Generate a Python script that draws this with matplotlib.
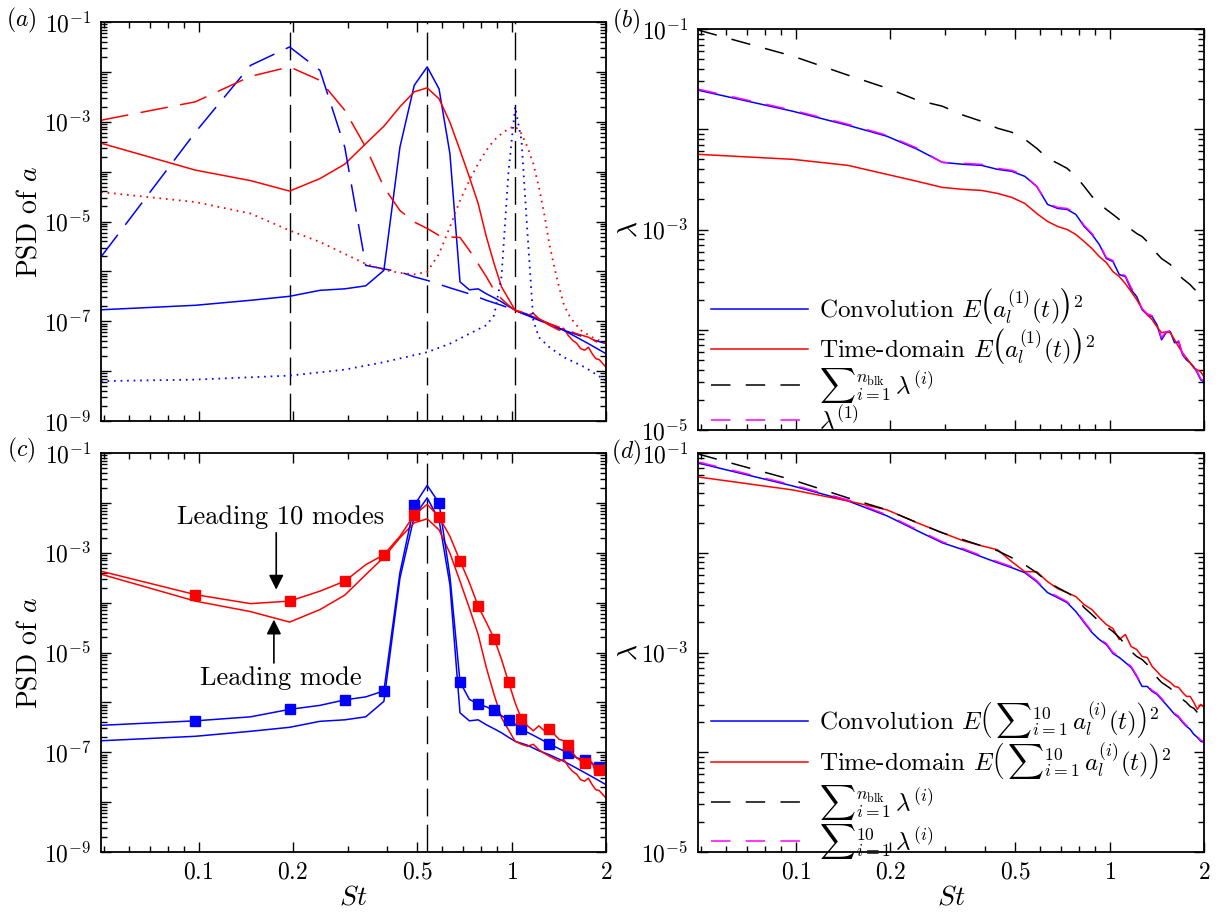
import numpy as np
import matplotlib
matplotlib.use("Agg")
import matplotlib.pyplot as plt
from matplotlib.ticker import FixedLocator, LogLocator, FuncFormatter, NullFormatter

plt.rcParams.update({
    "font.family": "serif",
    "font.serif": ["cmr10"],
    "mathtext.fontset": "cm",
    "axes.unicode_minus": False,
    "axes.formatter.use_mathtext": True,
    "lines.scale_dashes": False,
})

# Strouhal number of each spectral bin
ST_BINS = [0.0488, 0.0977, 0.1465, 0.1953, 0.2441, 0.2930, 0.3418, 0.3906,
           0.4395, 0.4883, 0.5371, 0.5859, 0.6348, 0.6836, 0.7324, 0.7813,
           0.8301, 0.8789, 0.9277, 0.9766, 1.0254, 1.0742, 1.1230, 1.1719,
           1.2207, 1.2695, 1.3184, 1.3672, 1.4160, 1.4648, 1.5137, 1.5625,
           1.6113, 1.6602, 1.7090, 1.7578, 1.8066, 1.8555, 1.9043, 1.9531,
           2.0000]
ST_MARKED = [0.1, 0.2, 0.5, 1, 2]
PEAK_BINS = [4, 11, 21]
SQUARE_BINS = [2, 4, 6, 8, 10, 12, 14, 16, 18, 20, 22, 27, 31, 35, 39]

# ---- (a) PSD of a, log10 values at the listed bins ----
a_blue_solid_bins = list(range(1, 22)) + [23, 25, 27, 30, 33, 36, 41]
a_blue_solid = [-6.77, -6.68, -6.58, -6.50, -6.38, -6.35, -6.29, -5.98, -3.51,
                -2.27, -1.90, -2.34, -3.64, -6.21, -6.37, -6.35, -6.45, -6.53,
                -6.61, -6.70, -6.78, -6.86, -6.97, -7.05, -7.18, -7.32, -7.45,
                -7.65]
a_red_solid_bins = list(range(1, 42))
a_red_solid = [-3.43, -3.97, -4.18, -4.39, -4.14, -3.85, -3.44, -3.09, -2.70,
               -2.40, -2.32, -2.54, -3.01, -3.57, -4.11, -4.64, -5.31, -5.85,
               -6.31, -6.55, -6.78, -6.84, -6.88, -6.84, -6.95, -7.02, -7.08,
               -7.13, -7.18, -7.14, -7.28, -7.38, -7.44, -7.55, -7.58, -7.52,
               -7.65, -7.75, -7.77, -7.85, -7.92]
a_blue_dashed_bins = [1, 2, 3, 4, 5, 6, 7, 8, 9, 10, 11, 13, 15, 17, 19, 21,
                      25, 30, 35, 41]
a_blue_dashed = [-5.71, -3.21, -1.87, -1.50, -1.97, -3.51, -5.88, -5.95, -6.01,
                 -6.11, -6.18, -6.33, -6.45, -6.58, -6.68, -6.78, -6.98, -7.18,
                 -7.32, -7.45]
a_red_dashed_bins = list(range(1, 22)) + [23, 25, 27, 30, 33, 36, 41]
a_red_dashed = [-2.97, -2.60, -2.09, -1.90, -2.17, -2.77, -3.51, -4.31, -4.78,
                -5.01, -5.14, -5.28, -5.31, -5.32, -5.58, -5.85, -6.11, -6.38,
                -6.55, -6.68, -6.78, -6.85, -6.95, -7.05, -7.15, -7.25, -7.32,
                -7.52]
a_blue_dotted_bins = [1, 2, 4, 6, 8, 10, 11, 13, 15, 17, 18, 19, 20, 21, 22,
                      23, 24, 25, 27, 30, 35, 41]
a_blue_dotted = [-8.20, -8.17, -8.09, -7.97, -7.82, -7.68, -7.62, -7.45,
                 -7.25, -7.08, -6.88, -6.10, -4.00, -2.70, -3.37, -5.24,
                 -6.98, -7.32, -7.52, -7.72, -7.92, -8.19]
a_red_dotted_bins = list(range(1, 33)) + [34, 37, 41]
a_red_dotted = [-4.41, -4.61, -4.84, -5.18, -5.41, -5.65, -5.85, -5.97, -6.03,
                -6.06, -6.01, -5.65, -5.11, -4.58, -4.18, -3.84, -3.57, -3.37,
                -3.24, -3.14, -3.09, -3.24, -3.51, -3.84, -4.31, -4.84, -5.45,
                -5.91, -6.31, -6.65, -6.85, -6.98, -7.18, -7.32, -7.45]

# ---- (c) leading 10 modes, log10 values ----
c_red_10_bins = list(range(1, 42))
c_red_10 = [-3.37, -3.84, -4.02, -3.97, -3.77, -3.57, -3.24, -3.04, -2.67,
            -2.24, -2.03, -2.28, -2.67, -3.16, -3.60, -4.07, -4.40, -4.72,
            -5.14, -5.59, -6.01, -6.33, -6.47, -6.57, -6.47, -6.57, -6.54,
            -6.64, -6.74, -6.77, -6.86, -7.01, -7.11, -7.17, -7.21, -7.14,
            -7.21, -7.41, -7.36, -7.27, -7.24]
c_blue_10_bins = list(range(1, 23)) + [24, 27, 29, 31, 33, 35, 37, 39, 41]
c_blue_10 = [-6.46, -6.37, -6.29, -6.14, -6.06, -5.95, -5.89, -5.77, -3.40,
             -2.05, -1.65, -2.00, -3.47, -5.59, -5.94, -6.03, -6.09, -6.16,
             -6.27, -6.35, -6.44, -6.54, -6.66, -6.83, -6.93, -7.01, -7.11,
             -7.16, -7.23, -7.29, -7.30]

# ---- (b) leading mode energy, log10 values at every bin ----
b_conv = [-1.61, -1.82, -1.96, -2.07, -2.20, -2.33, -2.35, -2.36, -2.40, -2.42,
          -2.47, -2.57, -2.75, -2.79, -2.80, -2.85, -2.97, -3.05, -3.15, -3.29,
          -3.32, -3.45, -3.47, -3.60, -3.67, -3.80, -3.85, -3.87, -3.95, -4.10,
          -4.03, -4.02, -4.13, -4.12, -4.25, -4.30, -4.33, -4.37, -4.43, -4.50,
          -4.52]
b_time = [-2.25, -2.30, -2.36, -2.45, -2.52, -2.58, -2.60, -2.61, -2.64, -2.68,
          -2.74, -2.84, -2.92, -2.97, -3.00, -3.05, -3.12, -3.19, -3.27, -3.33,
          -3.42, -3.47, -3.54, -3.62, -3.70, -3.79, -3.85, -3.90, -3.97, -4.03,
          -4.02, -4.03, -4.10, -4.17, -4.23, -4.28, -4.33, -4.38, -4.40, -4.42,
          -4.47]
b_lam_sum = [-1.01, -1.27, -1.46, -1.59, -1.71, -1.77, -1.86, -1.92, -1.99,
             -2.03, -2.10, -2.19, -2.29, -2.34, -2.39, -2.47, -2.57, -2.67,
             -2.74, -2.80, -2.85, -2.90, -2.95, -3.00, -3.04, -3.07, -3.12,
             -3.19, -3.24, -3.29, -3.32, -3.35, -3.40, -3.45, -3.49, -3.52,
             -3.55, -3.59, -3.62, -3.64, -3.65]
b_lam_1 = [-1.60, -1.81, -1.95, -2.06, -2.19, -2.33, -2.34, -2.35, -2.39, -2.41,
           -2.46, -2.57, -2.74, -2.78, -2.79, -2.84, -2.96, -3.04, -3.14, -3.28,
           -3.31, -3.44, -3.46, -3.58, -3.66, -3.79, -3.84, -3.86, -3.94, -4.08,
           -4.02, -4.01, -4.12, -4.11, -4.24, -4.29, -4.32, -4.36, -4.42, -4.49,
           -4.51]

# ---- (d) leading 10 modes energy, log10 values at every bin ----
d_conv = [-1.10, -1.33, -1.48, -1.63, -1.78, -1.90, -1.97, -2.04, -2.10, -2.15,
          -2.20, -2.29, -2.40, -2.45, -2.50, -2.59, -2.70, -2.80, -2.87, -2.92,
          -3.01, -3.05, -3.10, -3.15, -3.24, -3.34, -3.34, -3.39, -3.42, -3.47,
          -3.52, -3.57, -3.62, -3.65, -3.70, -3.74, -3.77, -3.82, -3.85, -3.89,
          -3.90]
d_time = [-1.24, -1.37, -1.48, -1.57, -1.70, -1.80, -1.88, -1.93, -1.97, -2.09,
          -2.19, -2.19, -2.29, -2.36, -2.40, -2.44, -2.52, -2.57, -2.65, -2.72,
          -2.76, -2.87, -2.82, -2.94, -2.97, -3.04, -3.05, -3.14, -3.19, -3.24,
          -3.27, -3.30, -3.34, -3.35, -3.40, -3.44, -3.44, -3.50, -3.57, -3.52,
          -3.55]
d_lam_sum = [-1.01, -1.27, -1.45, -1.57, -1.70, -1.80, -1.87, -1.93, -1.98,
             -2.05, -2.12, -2.20, -2.29, -2.35, -2.40, -2.45, -2.55, -2.62,
             -2.69, -2.74, -2.79, -2.85, -2.92, -2.99, -3.04, -3.07, -3.12,
             -3.20, -3.25, -3.30, -3.33, -3.36, -3.40, -3.44, -3.47, -3.50,
             -3.54, -3.56, -3.60, -3.62, -3.64]
d_lam_10 = [-1.09, -1.32, -1.47, -1.62, -1.77, -1.89, -1.96, -2.03, -2.09, -2.14,
            -2.19, -2.28, -2.39, -2.44, -2.49, -2.58, -2.69, -2.79, -2.86, -2.91,
            -3.00, -3.04, -3.09, -3.14, -3.23, -3.33, -3.33, -3.38, -3.41, -3.46,
            -3.51, -3.56, -3.61, -3.64, -3.69, -3.73, -3.76, -3.81, -3.84, -3.88,
            -3.89]

LEGEND_B = [r"Convolution $E\left(a_l^{(1)}(t)\right)^2$",
            r"Time-domain $E\left(a_l^{(1)}(t)\right)^2$",
            r"${\sum}_{i=1}^{n_{\mathrm{blk}}}\,\lambda^{(i)}$",
            r"$\lambda^{(1)}$"]
LEGEND_D = [r"Convolution $E\left(\,{\sum}_{i=1}^{10}\,a_l^{(i)}(t)\right)^2$",
            r"Time-domain $E\left(\,{\sum}_{i=1}^{10}\,a_l^{(i)}(t)\right)^2$",
            r"${\sum}_{i=1}^{n_{\mathrm{blk}}}\,\lambda^{(i)}$",
            r"${\sum}_{i=1}^{10}\,\lambda^{(i)}$"]

BLUE, RED, MAGENTA = "#0000ff", "#ff0000", "#ff00ff"
LW = 1.1
LONG_DASH = (20, 9)
LEG_DASH = (14, 11)
DOT = (1.2, 3.5)
TICK_FS = 17
W, H = 1221, 919


def st(bins):
    return np.array([ST_BINS[k - 1] for k in bins])


def psd(logs):
    return 10.0 ** np.asarray(logs)


def odd_decades(v, pos):
    e = int(round(np.log10(v)))
    return rf"$10^{{{e}}}$" if e % 2 else ""


def style_axes(ax, ymin, ymax, show_x):
    ax.set_xscale("log")
    ax.set_yscale("log")
    ax.set_xlim(ST_BINS[0], ST_BINS[-1])
    ax.set_ylim(ymin, ymax)
    ax.xaxis.set_major_locator(FixedLocator(ST_MARKED))
    ax.xaxis.set_minor_locator(LogLocator(base=10, subs=np.arange(1, 10), numticks=20))
    ax.xaxis.set_minor_formatter(NullFormatter())
    if show_x:
        ax.xaxis.set_major_formatter(FuncFormatter(lambda v, p: f"${v:g}$"))
    else:
        ax.xaxis.set_major_formatter(NullFormatter())
    ax.yaxis.set_major_locator(LogLocator(base=10, numticks=20))
    ax.yaxis.set_minor_locator(LogLocator(base=10, subs=np.arange(2, 10), numticks=20))
    ax.yaxis.set_major_formatter(FuncFormatter(odd_decades))
    ax.yaxis.set_minor_formatter(NullFormatter())
    ax.tick_params(which="both", direction="in", top=True, right=True,
                   labelsize=TICK_FS, width=1.0)
    ax.tick_params(which="major", length=7, pad=7)
    ax.tick_params(which="minor", length=4)
    for s in ax.spines.values():
        s.set_linewidth(1.3)


def axes_at(fig, x0, y0, x1, y1):
    return fig.add_axes([x0 / W, 1 - y1 / H, (x1 - x0) / W, (y1 - y0) / H])


fig = plt.figure(figsize=(W / 100, H / 100), dpi=100)
ax_a = axes_at(fig, 101, 22, 606, 421)
ax_b = axes_at(fig, 698, 29, 1204, 430)
ax_c = axes_at(fig, 101, 453, 606, 852)
ax_d = axes_at(fig, 698, 453, 1204, 852)

# (a) single-mode spectra
for k in PEAK_BINS:
    ax_a.axvline(ST_BINS[k - 1], color="k", lw=1.0, dashes=(20, 6))
ax_a.plot(st(a_blue_solid_bins), psd(a_blue_solid), color=BLUE, lw=LW)
ax_a.plot(st(a_red_solid_bins), psd(a_red_solid), color=RED, lw=LW)
ax_a.plot(st(a_blue_dashed_bins), psd(a_blue_dashed), color=BLUE, lw=LW, dashes=LONG_DASH)
ax_a.plot(st(a_red_dashed_bins), psd(a_red_dashed), color=RED, lw=LW, dashes=LONG_DASH)
ax_a.plot(st(a_blue_dotted_bins), psd(a_blue_dotted), color=BLUE, lw=1.3, dashes=DOT)
ax_a.plot(st(a_red_dotted_bins), psd(a_red_dotted), color=RED, lw=1.3, dashes=DOT)
style_axes(ax_a, 1e-9, 1e-1, show_x=False)
ax_a.set_ylabel(r"PSD of $a$", fontsize=20)
ax_a.yaxis.set_label_coords(-0.115, 0.5)

# (c) leading mode vs leading 10 modes
ax_c.axvline(ST_BINS[PEAK_BINS[1] - 1], color="k", lw=1.0, dashes=(20, 6))
ax_c.plot(st(a_blue_solid_bins), psd(a_blue_solid), color=BLUE, lw=LW)
ax_c.plot(st(a_red_solid_bins), psd(a_red_solid), color=RED, lw=LW)
for bins, vals, col in [(c_blue_10_bins, c_blue_10, BLUE), (c_red_10_bins, c_red_10, RED)]:
    marks = [bins.index(k) for k in SQUARE_BINS if k in bins]
    ax_c.plot(st(bins), psd(vals), color=col, lw=LW, marker="s", ms=6.5,
              markevery=marks)
style_axes(ax_c, 1e-9, 1e-1, show_x=True)
ax_c.set_ylabel(r"PSD of $a$", fontsize=20)
ax_c.yaxis.set_label_coords(-0.115, 0.5)
ax_c.set_xlabel(r"$St$", fontsize=20)
ax_c.xaxis.set_label_coords(0.5, -0.08)

arrow = dict(arrowstyle="-|>", color="k", lw=1.2, mutation_scale=22, shrinkA=0, shrinkB=0)
ax_c.text(0.183, 10 ** -2.28, "Leading 10 modes", fontsize=19, ha="center", va="center")
ax_c.annotate("", xy=(0.177, 10 ** -3.74), xytext=(0.177, 10 ** -2.60), arrowprops=arrow)
ax_c.text(0.183, 10 ** -5.51, "Leading mode", fontsize=19, ha="center", va="center")
ax_c.annotate("", xy=(0.174, 10 ** -4.34), xytext=(0.174, 10 ** -5.21), arrowprops=arrow)

# (b), (d) energy against eigenvalues
for ax, series, labels, anchor_y in [
    (ax_b, (b_conv, b_time, b_lam_sum, b_lam_1), LEGEND_B, -0.01),
    (ax_d, (d_conv, d_time, d_lam_sum, d_lam_10), LEGEND_D, -0.022),
]:
    conv, time, lam_sum, lam_part = series
    ax.plot(ST_BINS, psd(conv), color=BLUE, lw=LW, label=labels[0])
    ax.plot(ST_BINS, psd(time), color=RED, lw=LW, label=labels[1])
    ax.plot(ST_BINS, psd(lam_sum), color="k", lw=LW, dashes=LEG_DASH, label=labels[2])
    ax.plot(ST_BINS, psd(lam_part), color=MAGENTA, lw=LW, dashes=LEG_DASH, label=labels[3])
    ax.set_ylabel(r"$\lambda$", fontsize=20)
    ax.yaxis.set_label_coords(-0.11, 0.5)
    ax.legend(loc="lower left", bbox_to_anchor=(0.025, anchor_y), frameon=False,
              fontsize=18, handlelength=3.9, handletextpad=0.45,
              labelspacing=0.0, borderpad=0, borderaxespad=0)

style_axes(ax_b, 1e-5, 1e-1, show_x=False)
style_axes(ax_d, 1e-5, 1e-1, show_x=True)
ax_d.set_xlabel(r"$St$", fontsize=20)
ax_d.xaxis.set_label_coords(0.5, -0.08)

for lab, x, y in [("a", 21, 20), ("b", 626, 21), ("c", 21, 450), ("d", 626, 452)]:
    fig.text(x / W, 1 - y / H, rf"$({lab})$", fontsize=17, ha="center", va="center")

fig.savefig("out.png", dpi=100)
